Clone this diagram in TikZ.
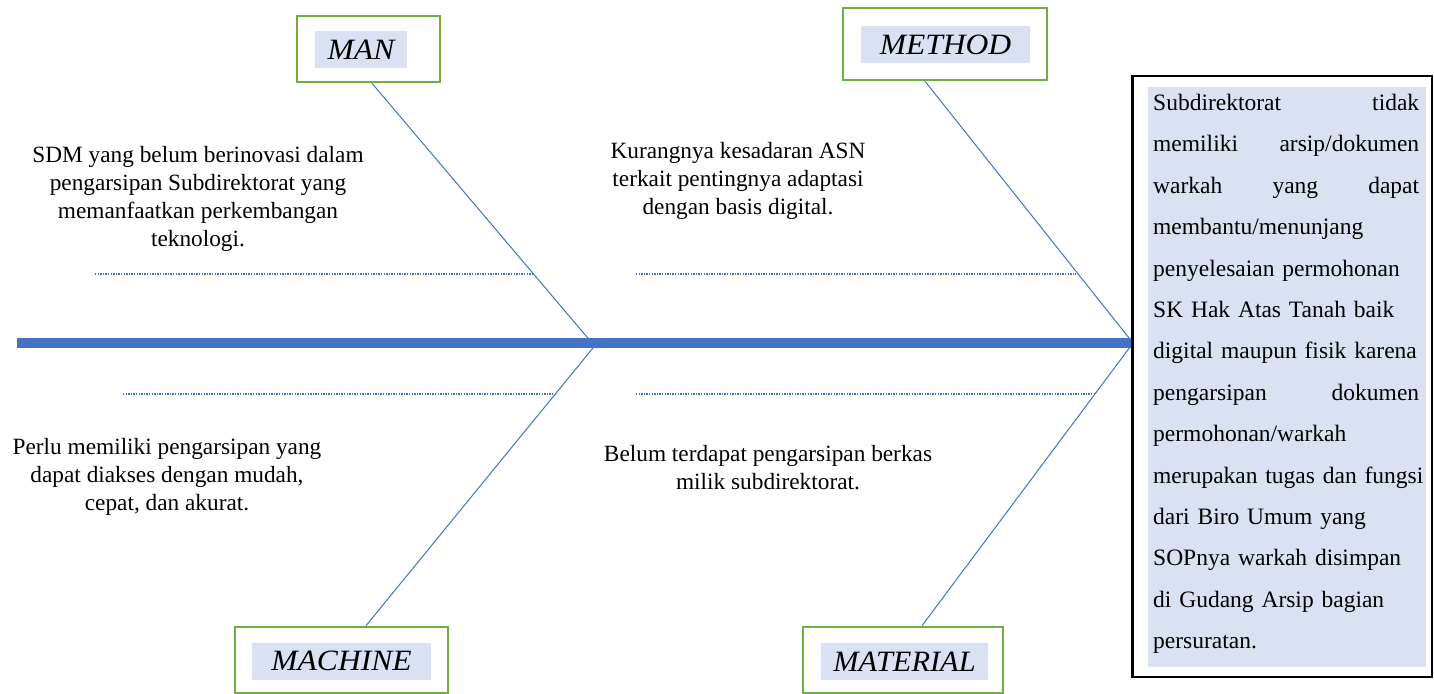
\documentclass[tikz,border=0pt]{standalone}
\usepackage{graphicx}
\usepackage{fontspec}
\setmainfont{Liberation Serif}
\usetikzlibrary{calc}
\definecolor{spineblue}{HTML}{4472C4}
\definecolor{hlblue}{HTML}{D9E1F2}
\definecolor{lgreen}{HTML}{70AD47}
\begin{document}
\begin{tikzpicture}[x=1pt,y=-1pt,
  catbox/.style={draw=lgreen, line width=2.6pt, fill=white, inner sep=0pt, minimum height=66pt},
  cattext/.style={fill=hlblue, inner sep=0pt, minimum height=37pt, font=\fontsize{29.5}{34}\selectfont\itshape},
  cause/.style={align=center, font=\fontsize{23.3}{28}\selectfont, inner sep=0pt},
  bone/.style={draw=spineblue, line width=1pt},
  subbone/.style={draw=spineblue, line width=1.2pt, dash pattern=on 1.3pt off 1.3pt},
  spine/.style={draw=spineblue, line width=10pt}]
\useasboundingbox (0,0) rectangle (1434,693);

% category boxes
\node[catbox, minimum width=143pt] (manbox) at (368.5,49) {};
\node[cattext, minimum width=92pt] (man) at (361,50) {\scalebox{1.07}[1]{MAN}};
\node[catbox, minimum width=204pt, minimum height=72pt] (methodbox) at (945,44) {};
\node[cattext, minimum width=169pt] (method) at (945.5,45) {\scalebox{1.07}[1]{METHOD}};
\node[catbox, minimum width=213pt] (machinebox) at (341.5,660) {};
\node[cattext, minimum width=179pt] (machine) at (341.5,661) {\scalebox{1.07}[1]{MACHINE}};
\node[catbox, minimum width=200pt] (materialbox) at (903,660) {};
\node[cattext, minimum width=167pt] (material) at (904.5,661.5) {\scalebox{1.03}[1]{MATERIAL}};

% joints
\coordinate (tail) at (17,343);
\coordinate (jman) at (592,343);
\coordinate (jmach) at (597,343);
\coordinate (jhead) at (1133,343);

% bones
\draw[bone] ($(manbox.south)+(3.5,0)$) -- (jman);
\draw[bone] ($(machinebox.north)+(24.5,0)$) -- (jmach);
\draw[bone] ($(methodbox.south)+(-20,0)$) -- (jhead);
\draw[bone] ($(materialbox.north)+(19,0)$) -- (jhead);

% sub bones (dotted)
\coordinate (s1a) at (95,274);  \coordinate (s1b) at (534,274);
\coordinate (s2a) at (636,274); \coordinate (s2b) at (1076,274);
\coordinate (s3a) at (123,394); \coordinate (s3b) at (557,394);
\coordinate (s4a) at (636,394); \coordinate (s4b) at (1094,394);
\draw[subbone] (s1a) -- (s1b);
\draw[subbone] (s2a) -- (s2b);
\draw[subbone] (s3a) -- (s3b);
\draw[subbone] (s4a) -- (s4b);

% right box
\node[draw=black, line width=2pt, fill=white, inner sep=0pt, minimum width=299pt, minimum height=601pt] (rbox) at (1282.5,376.5) {};
\draw[spine] (tail) -- (tail -| rbox.west);
\draw[black, line width=2pt] (rbox.north west) -- (rbox.south west);
\fill[hlblue] (1148,87) rectangle (1426,667);
\node[anchor=north west, inner sep=0pt, text width=285pt, align=left, font=\fontsize{23.5}{41.4}\selectfont] (rtext) at (1153,94) {%
\makebox[266pt][s]{Subdirektorat\hfill tidak}\\
\makebox[266pt][s]{memiliki\hfill arsip/dokumen}\\
\makebox[266pt][s]{warkah\hfill yang\hfill dapat}\\
membantu/menunjang\\
penyelesaian permohonan\\
SK Hak Atas Tanah baik\\
digital maupun fisik karena\\
\makebox[266pt][s]{pengarsipan\hfill dokumen}\\
permohonan/warkah\\
merupakan tugas dan fungsi\\
dari Biro Umum yang\\
SOPnya warkah disimpan\\
di Gudang Arsip bagian\\
persuratan.};

% cause texts
\node[cause] (cman) at (198,199) {SDM yang belum berinovasi dalam\\pengarsipan Subdirektorat yang\\memanfaatkan perkembangan\\teknologi.};
\node[cause] (cmethod) at (738,181) {Kurangnya kesadaran ASN\\terkait pentingnya adaptasi\\dengan basis digital.};
\node[cause] (cmachine) at (167,477) {Perlu memiliki pengarsipan yang\\dapat diakses dengan mudah,\\cepat, dan akurat.};
\node[cause] (cmaterial) at (768,468) {Belum terdapat pengarsipan berkas\\milik subdirektorat.};
\end{tikzpicture}
\end{document}
